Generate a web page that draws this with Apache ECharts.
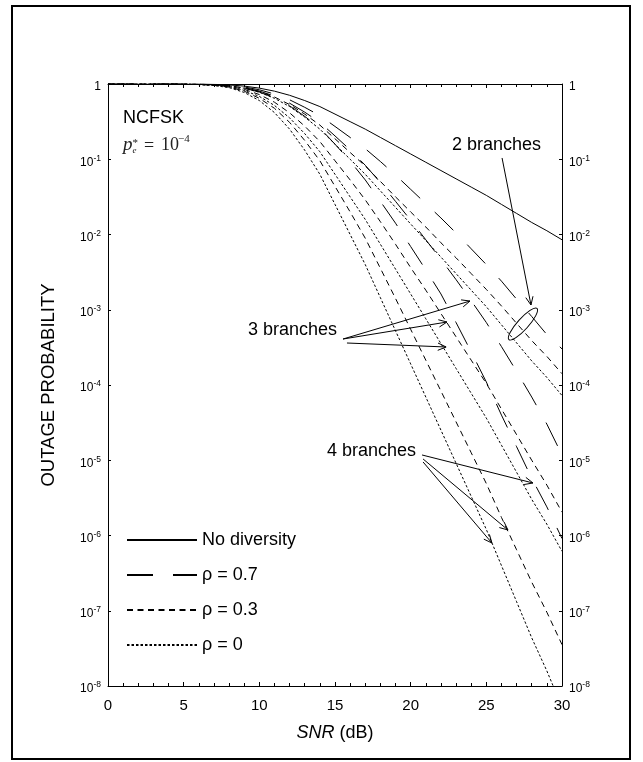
<!DOCTYPE html>
<html><head><meta charset="utf-8">
<script src="https://cdn.jsdelivr.net/npm/echarts@6/dist/echarts.min.js"></script>
<style>html,body{margin:0;padding:0;background:#fff}#c{width:643px;height:762px}</style>
</head><body><div id="c"></div>
<script>
// SNR grid (dB)
const snrDb = [0,1,2,3,4,5,6,7,8,9,10,11,12,13,14,15,16,17,18,19,20,21,22,23,24,25,26,27,28,29,30];
// log10(outage probability)
const noDiversityLog = [0,0,0,0,0,0,-0.002,-0.005,-0.012,-0.028,-0.055,-0.095,-0.15,-0.22,-0.30,-0.40,-0.50,-0.60,-0.71,-0.82,-0.93,-1.04,-1.15,-1.26,-1.37,-1.48,-1.60,-1.72,-1.84,-1.95,-2.07];
const rho07br2Log = [0,0,0,0,0,0,-0.003,-0.007,-0.017,-0.039,-0.077,-0.133,-0.21,-0.31,-0.42,-0.564,-0.71,-0.86,-1.03,-1.21,-1.40,-1.59,-1.78,-1.98,-2.19,-2.40,-2.62,-2.86,-3.09,-3.33,-3.52];
const rho07br3Log = [0,0,0,0,0,0,-0.004,-0.009,-0.02,-0.048,-0.094,-0.16,-0.255,-0.374,-0.51,-0.69,-0.875,-1.08,-1.31,-1.56,-1.81,-2.07,-2.33,-2.60,-2.88,-3.17,-3.49,-3.82,-4.16,-4.52,-4.93];
const rho07br4Log = [0,0,0,0,0,0,-0.004,-0.01,-0.023,-0.055,-0.107,-0.185,-0.29,-0.43,-0.585,-0.80,-1.025,-1.275,-1.56,-1.85,-2.16,-2.47,-2.79,-3.17,-3.56,-3.96,-4.40,-4.82,-5.24,-5.62,-6.04];
const rho03br2Log = [0,0,0,0,0,0,-0.004,-0.009,-0.022,-0.051,-0.10,-0.173,-0.273,-0.40,-0.546,-0.728,-0.91,-1.09,-1.295,-1.50,-1.70,-1.90,-2.11,-2.31,-2.52,-2.73,-2.95,-3.18,-3.41,-3.62,-3.85];
const rho03br3Log = [0,0,0,0,0,0,-0.005,-0.013,-0.031,-0.071,-0.14,-0.242,-0.383,-0.56,-0.765,-1.02,-1.275,-1.54,-1.83,-2.13,-2.44,-2.74,-3.05,-3.36,-3.67,-3.98,-4.32,-4.66,-5.00,-5.33,-5.69];
const rho03br4Log = [0,0,0,0,0,0,-0.007,-0.017,-0.041,-0.095,-0.19,-0.323,-0.51,-0.75,-1.02,-1.36,-1.70,-2.05,-2.45,-2.85,-3.26,-3.67,-4.08,-4.49,-4.90,-5.31,-5.76,-6.19,-6.62,-7.02,-7.45];
const rho0br2Log = [0,0,0,0,0,0,-0.004,-0.01,-0.024,-0.056,-0.11,-0.19,-0.30,-0.44,-0.60,-0.80,-1.00,-1.20,-1.42,-1.64,-1.86,-2.08,-2.30,-2.52,-2.74,-2.96,-3.20,-3.44,-3.68,-3.90,-4.14];
const rho0br3Log = [0,0,0,0,0,0,-0.006,-0.015,-0.036,-0.084,-0.165,-0.285,-0.45,-0.66,-0.90,-1.20,-1.50,-1.80,-2.13,-2.46,-2.79,-3.12,-3.45,-3.78,-4.11,-4.44,-4.80,-5.16,-5.52,-5.85,-6.21];
const rho0br4Log = [0,0,0,0,0,0,-0.008,-0.02,-0.048,-0.112,-0.22,-0.38,-0.60,-0.88,-1.20,-1.60,-2.00,-2.40,-2.84,-3.28,-3.72,-4.16,-4.60,-5.04,-5.48,-5.92,-6.40,-6.88,-7.36,-7.80,-8.28];
const legendNames = ['No diversity','ρ = 0.7','ρ = 0.3','ρ = 0'];
const xTicks = [0,5,10,15,20,25,30];

const SANS = '"Liberation Sans", Arial, Helvetica, sans-serif';
const SERIF = '"Liberation Serif", "Times New Roman", serif';
const dashLong = [26,20], dashMid = [6,4.5], dashDot = [2.5,2];
const curves = [
  {name: legendNames[0], log: noDiversityLog, type: 'solid'},
  {name: legendNames[1], log: rho07br2Log, type: dashLong},
  {name: legendNames[1], log: rho07br3Log, type: dashLong},
  {name: legendNames[1], log: rho07br4Log, type: dashLong},
  {name: legendNames[2], log: rho03br2Log, type: dashMid},
  {name: legendNames[2], log: rho03br3Log, type: dashMid},
  {name: legendNames[2], log: rho03br4Log, type: dashMid},
  {name: legendNames[3], log: rho0br2Log, type: dashDot},
  {name: legendNames[3], log: rho0br3Log, type: dashDot},
  {name: legendNames[3], log: rho0br4Log, type: dashDot}
];

const chart = echarts.init(document.getElementById('c'), null, {renderer: 'canvas'});

function yLabel(v) {
  const e = Math.round(Math.log10(v));
  return e === 0 ? '{n|1}' : '{n|10}{s|' + e + '}';
}
const yLabelRich = {
  n: {fontSize: 12, fontFamily: SANS, color: '#000'},
  s: {fontSize: 8.5, fontFamily: SANS, color: '#000', padding: [0, 0, 8, 0]}
};

const option = {
  animation: false,
  backgroundColor: '#fff',
  grid: {left: 108, top: 84, right: 81, bottom: 76, containLabel: false},
  legend: {
    orient: 'vertical', left: 121, top: 526, itemWidth: 70, itemHeight: 14, itemGap: 17,
    data: legendNames, selectedMode: false,
    itemStyle: {opacity: 0},
    textStyle: {fontSize: 18, fontFamily: SANS, color: '#000'}
  },
  xAxis: [{
    type: 'value', position: 'bottom', min: 0, max: 30, interval: 5,
    axisLine: {show: true, onZero: false, lineStyle: {color: '#000', width: 1}},
    axisTick: {show: true, inside: true, length: 4, lineStyle: {color: '#000'}},
    minorTick: {show: true, splitNumber: 5, length: 3, lineStyle: {color: '#000'}},
    splitLine: {show: false},
    axisLabel: {fontSize: 15, fontFamily: SANS, color: '#000', margin: 12,
      formatter: v => xTicks.includes(v) ? String(v) : ''},
    name: '{i|SNR} (dB)', nameLocation: 'middle', nameGap: 38,
    nameTextStyle: {fontSize: 18, fontFamily: SANS, color: '#000',
      rich: {i: {fontSize: 18, fontFamily: SANS, fontStyle: 'italic', color: '#000'}}}
  }, {
    type: 'value', position: 'top', min: 0, max: 30, interval: 5,
    axisLine: {show: true, onZero: false, lineStyle: {color: '#000', width: 1}},
    axisTick: {show: true, inside: true, length: 4, lineStyle: {color: '#000'}},
    minorTick: {show: true, splitNumber: 5, length: 3, lineStyle: {color: '#000'}},
    splitLine: {show: false},
    axisLabel: {show: false}
  }],
  yAxis: [{
    type: 'log', logBase: 10, position: 'left', min: 1e-8, max: 1,
    axisLine: {show: true, onZero: false, lineStyle: {color: '#000', width: 1}},
    axisTick: {show: true, inside: true, length: 3, lineStyle: {color: '#000'}},
    splitLine: {show: false},
    axisLabel: {formatter: yLabel, rich: yLabelRich, margin: 7, padding: [6, 0, 0, 0]},
    name: 'OUTAGE PROBABILITY', nameLocation: 'middle', nameGap: 50, nameRotate: 90,
    nameTextStyle: {fontSize: 18.5, fontFamily: SANS, color: '#000'}
  }, {
    type: 'log', logBase: 10, position: 'right', min: 1e-8, max: 1,
    axisLine: {show: true, onZero: false, lineStyle: {color: '#000', width: 1}},
    axisTick: {show: true, inside: true, length: 3, lineStyle: {color: '#000'}},
    splitLine: {show: false},
    axisLabel: {formatter: yLabel, rich: yLabelRich, margin: 7, padding: [6, 0, 0, 0]}
  }],
  series: curves.map(c => ({
    type: 'line', name: c.name, xAxisIndex: 0, yAxisIndex: 0,
    data: snrDb.map((s, i) => [s, Math.pow(10, c.log[i])]),
    symbol: 'none', showSymbol: false, clip: true,
    lineStyle: {color: '#000', width: 1, type: c.type},
    itemStyle: {color: '#000'},
    emphasis: {disabled: true}
  }))
};
chart.setOption(option);

// annotations, anchored in data coordinates (SNR dB, log10 P)
const textNotes = [
  {text: 'NCFSK', at: [0.99, -0.452]},
  {text: '2 branches', at: [22.73, -0.81]},
  {text: '3 branches', at: [9.25, -3.27]},
  {text: '4 branches', at: [14.47, -4.877]}
];
const arrows = [
  {from: [26.04, -0.983], to: [27.95, -2.937]},
  {from: [15.53, -3.389], to: [23.92, -2.884]},
  {from: [15.53, -3.389], to: [22.40, -3.163]},
  {from: [15.79, -3.442], to: [22.34, -3.495]},
  {from: [20.75, -4.93], to: [28.08, -5.302]},
  {from: [20.82, -4.983], to: [26.43, -5.927]},
  {from: [20.82, -5.023], to: [25.37, -6.10]}
];
const ellipseAt = [27.42, -3.19];
const formulaAt = [0.99, -0.85];

const P = (s, lg) => chart.convertToPixel({xAxisIndex: 0, yAxisIndex: 0}, [s, Math.pow(10, lg)]);
const g = [];
g.push({type: 'rect', shape: {x: 12, y: 6, width: 618, height: 753}, style: {fill: null, stroke: '#000', lineWidth: 2}, z: 100});
textNotes.forEach(t => {
  const p = P(t.at[0], t.at[1]);
  g.push({type: 'text', x: p[0], y: p[1], style: {text: t.text, font: '18px ' + SANS, fill: '#000', align: 'left', verticalAlign: 'middle'}, z: 100});
});
function arrowEls(a, b) {
  const dx = b[0] - a[0], dy = b[1] - a[1], L = Math.hypot(dx, dy), ux = dx / L, uy = dy / L;
  const h = 9, w = 0.42, c = Math.cos(w), s = Math.sin(w);
  const l = [b[0] - h * (ux * c - uy * s), b[1] - h * (uy * c + ux * s)];
  const r = [b[0] - h * (ux * c + uy * s), b[1] - h * (uy * c - ux * s)];
  return [
    {type: 'line', shape: {x1: a[0], y1: a[1], x2: b[0], y2: b[1]}, style: {stroke: '#000', lineWidth: 1}, z: 100},
    {type: 'polyline', shape: {points: [l, b, r]}, style: {stroke: '#000', fill: null, lineWidth: 1}, z: 100}
  ];
}
arrows.forEach(a => g.push(...arrowEls(P(a.from[0], a.from[1]), P(a.to[0], a.to[1]))));
const ec = P(ellipseAt[0], ellipseAt[1]);
g.push({type: 'ellipse', x: ec[0], y: ec[1], rotation: 48 * Math.PI / 180, shape: {cx: 0, cy: 0, rx: 21, ry: 5.5}, style: {fill: null, stroke: '#000', lineWidth: 1}, z: 100});
const f = P(formulaAt[0], formulaAt[1]);
const fx = f[0], fy = f[1];
g.push({type: 'text', x: fx, y: fy - 3, style: {text: 'p', font: 'italic 19px ' + SERIF, fill: '#222', verticalAlign: 'middle'}, z: 100});
g.push({type: 'text', x: fx + 9.5, y: fy - 5, style: {text: '*', font: '11px ' + SERIF, fill: '#222', verticalAlign: 'middle'}, z: 100});
g.push({type: 'text', x: fx + 9.5, y: fy + 3, style: {text: 'e', font: 'italic 9px ' + SERIF, fill: '#222', verticalAlign: 'middle'}, z: 100});
g.push({type: 'text', x: fx + 21, y: fy - 2, style: {text: '=', font: '18px ' + SERIF, fill: '#222', verticalAlign: 'middle'}, z: 100});
g.push({type: 'text', x: fx + 38, y: fy - 3, style: {text: '10', font: '18px ' + SERIF, fill: '#222', verticalAlign: 'middle'}, z: 100});
g.push({type: 'text', x: fx + 55, y: fy - 9, style: {text: '−4', font: '11px ' + SERIF, fill: '#222', verticalAlign: 'middle'}, z: 100});
chart.setOption({graphic: g});
</script></body></html>
